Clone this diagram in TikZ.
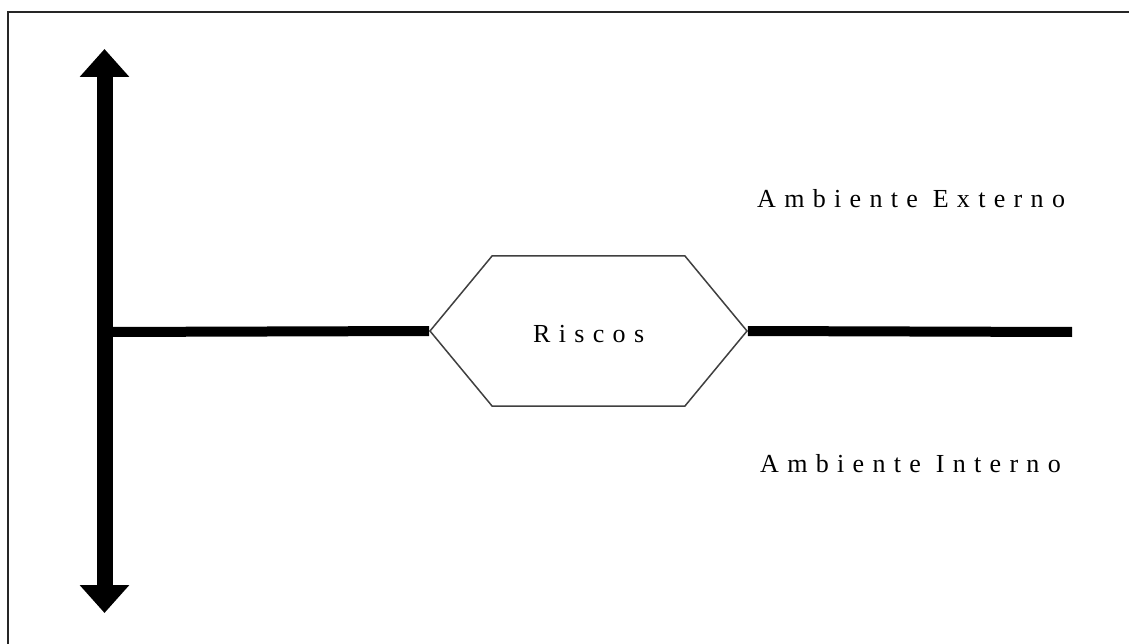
\documentclass[tikz,border=0pt]{standalone}
\usepackage{fontspec}
\setmainfont{Liberation Serif}
\usetikzlibrary{arrows.meta,shapes.symbols}
\begin{document}
\begin{tikzpicture}[x=1pt,y=-1pt,
  frameline/.style={line width=2.5pt,black!85},
  bigarrow/.style={line width=16pt,{Triangle[width=48pt,length=28pt]}-{Triangle[width=48pt,length=28pt]}},
  axisline/.style={line width=10pt},
  hexbox/.style={draw=black!75,line width=1.5pt,fill=white,signal,signal to=west and east,
    signal pointer angle=100.8,minimum width=317pt,minimum height=150pt,inner sep=0pt},
  lbl/.style={font=\fontsize{26}{28}\selectfont\addfontfeature{LetterSpace=32},anchor=base west,inner sep=0pt}]
\useasboundingbox (0,0) rectangle (1129,644);
\coordinate (fTL) at (8,12);
\coordinate (fBL) at (8,680);
\coordinate (fTR) at (1180,12);
\draw[frameline] (fBL) -- (fTL) -- (fTR);
\coordinate (atop) at (104.5,49);
\coordinate (abot) at (104.5,613);
\coordinate (junc) at (104.5,332);
\coordinate (rend) at (1072,332);
\node[hexbox] (hex) at (588.5,331) {};
\node[lbl] (riscos) at (533,342) {Riscos};
\draw[bigarrow] (atop) -- (abot);
\draw[axisline] (junc) -- (hex.west);
\draw[axisline,line cap=butt] (hex.east) -- (rend);
\node[lbl] (ext) at (757,208) {Ambiente Externo};
\node[lbl] (int) at (760,472) {Ambiente Interno};
\end{tikzpicture}
\end{document}
